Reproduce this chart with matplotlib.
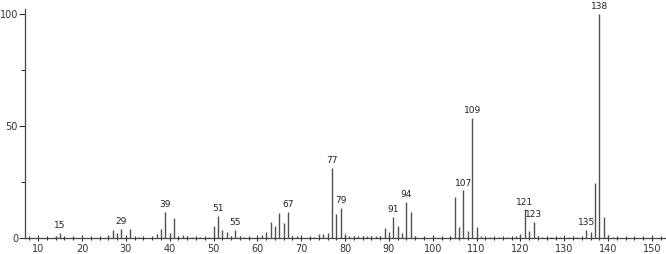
import matplotlib
matplotlib.use('Agg')
import matplotlib.pyplot as plt
from matplotlib.ticker import MultipleLocator

# m/z values and relative intensities
mz = [14, 15, 16, 18, 26, 27, 28, 29, 30, 31, 32, 33, 37, 38, 39, 40, 41, 42,
      43, 44, 45, 47, 49, 50, 51, 52, 53, 54, 55, 56, 57, 58, 60, 61, 62, 63,
      64, 65, 66, 67, 68, 69, 70, 72, 73, 74, 75, 76, 77, 78, 79, 80, 81, 82,
      83, 84, 85, 86, 87, 88, 89, 90, 91, 92, 93, 94, 95, 96, 98, 100, 102,
      104, 105, 106, 107, 108, 109, 110, 111, 113, 115, 117, 119, 120, 121,
      122, 123, 124, 125, 127, 129, 131, 133, 135, 136, 137, 138, 139, 140, 141]
intensity = [0.8, 2.2, 0.5, 0.5, 1.3, 3.6, 2.2, 4.0, 0.7, 4.0, 0.6, 0.5, 1.8,
             4.0, 11.6, 2.2, 8.9, 1.0, 1.3, 0.9, 0.6, 0.6, 0.6, 5.4, 9.8, 3.6,
             2.7, 0.8, 3.6, 0.8, 0.6, 0.5, 0.6, 1.3, 2.7, 7.1, 5.4, 11.2, 6.7,
             11.6, 0.9, 0.7, 0.5, 0.5, 0.6, 1.8, 1.8, 2.2, 31.4, 10.5, 13.4,
             1.8, 0.8, 0.7, 0.7, 0.7, 0.7, 0.7, 0.7, 0.7, 4.5, 2.7, 9.4, 5.4,
             2.2, 16.0, 11.6, 1.0, 0.5, 0.5, 0.4, 0.8, 18.3, 4.9, 21.2, 3.1,
             53.5, 4.9, 0.8, 0.4, 0.4, 0.5, 1.0, 1.8, 12.8, 3.0, 7.1, 0.8, 0.5,
             0.4, 0.4, 0.4, 0.4, 3.6, 2.5, 24.5, 100.0, 9.4, 1.3, 0.5]

# peaks that carry an m/z label
labelled = [15, 29, 39, 51, 55, 67, 77, 79, 91, 94, 107, 109, 121, 123, 135, 138]

fig = plt.figure(figsize=(6.66, 2.54), dpi=100)
ax = fig.add_axes([0.0375, 0.063, 0.9625, 0.9])

ax.vlines(mz, 0, intensity, color='#505050', linewidth=1.0)

for m, v in zip(mz, intensity):
    if m in labelled:
        ax.text(m, v + 1.2, str(m), ha='center', va='bottom', fontsize=6.5,
                color='#222222', clip_on=False)

ax.set_xlim(7, 153.2)
ax.set_ylim(0, 102)

ax.spines['top'].set_visible(False)
ax.spines['right'].set_visible(False)
for s in ['left', 'bottom']:
    ax.spines[s].set_color('#444444')
    ax.spines[s].set_linewidth(0.9)

ax.xaxis.set_major_locator(MultipleLocator(10))
ax.xaxis.set_minor_locator(MultipleLocator(2))
ax.set_xticks(range(10, 151, 10))
ax.yaxis.set_major_locator(MultipleLocator(50))
ax.yaxis.set_minor_locator(MultipleLocator(25))

ax.tick_params(axis='x', which='major', direction='inout', length=5,
               width=0.8, labelsize=7, pad=2, colors='#333333')
ax.tick_params(axis='x', which='minor', direction='inout', length=3,
               width=0.8, colors='#333333')
ax.tick_params(axis='y', which='major', direction='out', length=4,
               width=0.8, labelsize=7, pad=1, colors='#333333')
ax.tick_params(axis='y', which='minor', direction='out', length=3,
               width=0.8, colors='#333333')

fig.savefig('out.png', dpi=100)
